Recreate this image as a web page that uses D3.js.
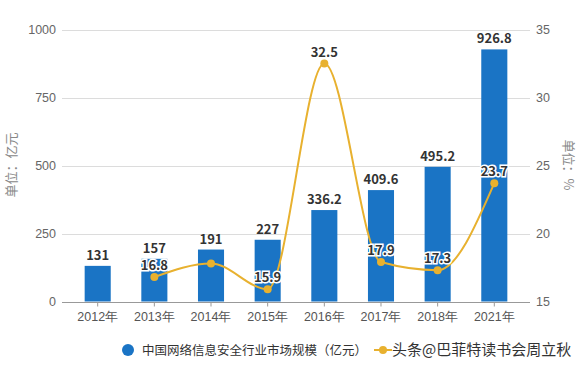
<!DOCTYPE html>
<html><head><meta charset="utf-8">
<script src="https://cdn.jsdelivr.net/npm/d3@7"></script>
<style>body{margin:0;background:#fff}svg{display:block;font-family:"Microsoft YaHei","Noto Sans CJK SC",sans-serif}</style>
</head><body>
<svg id="c" width="582" height="369"></svg>
<script>
const categories = ["2012年","2013年","2014年","2015年","2016年","2017年","2018年","2021年"];
const marketSize = [131,157,191,227,336.2,409.6,495.2,926.8];
const marketLabels = ["131","157","191","227","336.2","409.6","495.2","926.8"];
const growthCats = ["2013年","2014年","2015年","2016年","2017年","2018年","2021年"];
const growth = [16.8,17.8,15.9,32.5,17.9,17.3,23.7];
const growthLabels = ["16.8","","15.9","32.5","17.9","17.3","23.7"];
const leftTicks = [0,250,500,750,1000];
const rightTicks = [15,20,25,30,35];
const legendNames = ["中国网络信息安全行业市场规模（亿元）","头条@巴菲特读书会周立秋"];

const svg = d3.select("#c");
const L = 62, R = 530, T = 29.5, B = 301.5;
const x = d3.scaleBand().domain(categories).range([L, R]).paddingInner(0.54).paddingOuter(0.4);
const yL = d3.scaleLinear().domain([0,1000]).range([B, T]);
const yR = d3.scaleLinear().domain([15,35]).range([B, T]);
const barColor = "#1a74c5", lineColor = "#e8b12f";

// grid
svg.append("g").selectAll("line").data(leftTicks.slice(1)).join("line")
  .attr("x1", L).attr("x2", R).attr("y1", d => Math.round(yL(d))+0.5).attr("y2", d => Math.round(yL(d))+0.5)
  .attr("stroke", "#dcdcdc").attr("stroke-width", 1);

// left axis
const ga = svg.append("g").attr("transform", `translate(${L},0)`)
  .call(d3.axisLeft(yL).tickValues(leftTicks).tickFormat(d3.format("d")).tickSize(0).tickPadding(6));
ga.select(".domain").remove();
ga.selectAll("text").attr("fill", "#666").attr("font-size", 12.5).attr("font-family", "inherit");

const gr = svg.append("g").attr("transform", `translate(${R},0)`)
  .call(d3.axisRight(yR).tickValues(rightTicks).tickFormat(d3.format("d")).tickSize(0).tickPadding(6));
gr.select(".domain").remove();
gr.selectAll("text").attr("fill", "#666").attr("font-size", 12.5).attr("font-family", "inherit");

// bars
svg.append("g").selectAll("rect").data(marketSize).join("rect")
  .attr("x", (d,i) => x(categories[i])).attr("width", x.bandwidth())
  .attr("y", d => yL(d)).attr("height", d => B - yL(d)).attr("fill", barColor);

// x axis
const gx = svg.append("g").attr("transform", `translate(0,${Math.round(B)+0.5})`)
  .call(d3.axisBottom(x).tickSize(4).tickPadding(6).tickSizeOuter(0));
gx.select(".domain").attr("stroke", "#999").attr("d", `M${L},0H${R}`);
gx.selectAll(".tick line").attr("stroke", "#999");
gx.selectAll("text").attr("fill", "#555").attr("font-size", 12.5).attr("font-family", "inherit");

// bar labels
svg.append("g").selectAll("text").data(marketSize).join("text")
  .attr("x", (d,i) => x(categories[i]) + x.bandwidth()/2).attr("y", d => yL(d) - 6)
  .attr("text-anchor", "middle").attr("font-size", 13).attr("font-weight", "bold").attr("fill", "#333")
  .text((d,i) => marketLabels[i]);

// line
const cx = c => x(c) + x.bandwidth()/2;
const line = d3.line().x((d,i) => cx(growthCats[i])).y(d => yR(d)).curve(d3.curveMonotoneX);
svg.append("path").datum(growth).attr("d", line).attr("fill", "none")
  .attr("stroke", lineColor).attr("stroke-width", 2);
svg.append("g").selectAll("circle").data(growth).join("circle")
  .attr("cx", (d,i) => cx(growthCats[i])).attr("cy", d => yR(d)).attr("r", 4).attr("fill", lineColor);
svg.append("g").selectAll("text").data(growth).join("text")
  .attr("x", (d,i) => cx(growthCats[i])).attr("y", d => yR(d) - 7)
  .attr("text-anchor", "middle").attr("font-size", 13).attr("font-weight", "bold")
  .attr("fill", "#333").attr("stroke", "#fff").attr("stroke-width", 3).attr("paint-order", "stroke")
  .text((d,i) => growthLabels[i]);

// unit labels
svg.append("text").attr("transform", "translate(16,165) rotate(-90)").attr("text-anchor", "middle")
  .attr("font-size", 13).attr("fill", "#888").text("单位：亿元");
svg.append("text").attr("transform", "translate(564,165) rotate(90)").attr("text-anchor", "middle")
  .attr("font-size", 13).attr("fill", "#888").text("单位：%");

// legend
const lg = svg.append("g");
lg.append("circle").attr("cx", 128).attr("cy", 350).attr("r", 6).attr("fill", barColor);
lg.append("text").attr("x", 142).attr("y", 354.5).attr("font-size", 12.5).attr("fill", "#333").text(legendNames[0]);
lg.append("line").attr("x1", 374).attr("x2", 392).attr("y1", 350).attr("y2", 350).attr("stroke", lineColor).attr("stroke-width", 2);
lg.append("circle").attr("cx", 383).attr("cy", 350).attr("r", 4).attr("fill", lineColor);
lg.append("text").attr("x", 392).attr("y", 355).attr("font-size", 15).attr("fill", "#333").text(legendNames[1]);
</script>
</body></html>
